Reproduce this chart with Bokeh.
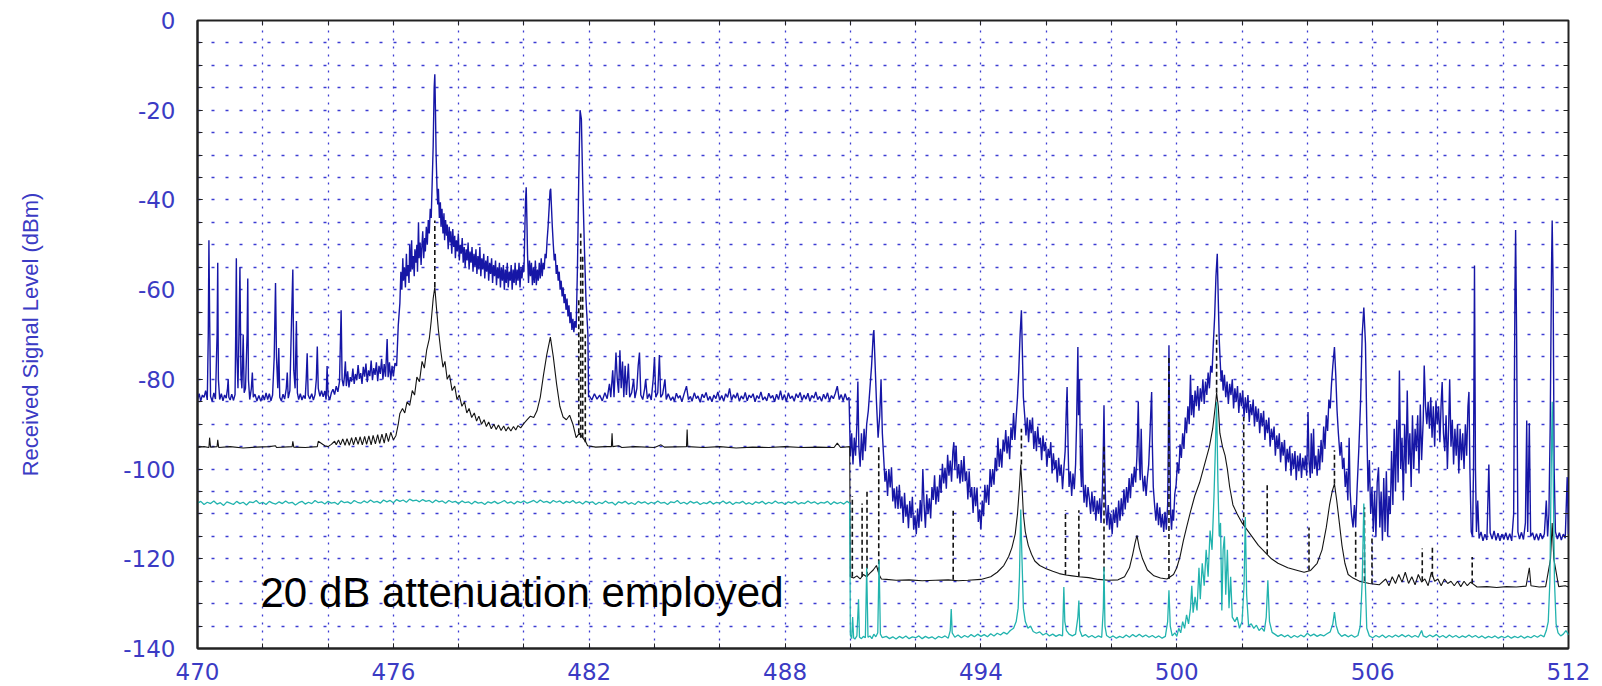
from bokeh.plotting import figure
from bokeh.models import Range1d, FixedTicker, LinearAxis, Label, ColumnDataSource
from bokeh.embed import file_html
from bokeh.resources import INLINE

# ---------------- data ----------------
x_tick_values = [470, 476, 482, 488, 494, 500, 506, 512]
x_grid_values = list(range(470, 513, 2))
y_tick_values = [-140, -120, -100, -80, -60, -40, -20, 0]
y_tick_labels = ["-140", "-120", "-100", "-80", "-60", "-40", "-20", "0"]
y_grid_values = list(range(-140, 1, 5))

y_axis_title = "Received Signal Level (dBm)"
note_text = "20 dB attenuation employed"
note_pos = (471.93, -127.6)

# blue trace: (MHz, dBm)
blue_trace = [
    (470.00,-84.5),(470.05,-83.2),(470.10,-84.8),(470.15,-83.5),(470.20,-84.0),(470.25,-82.5),(470.30,-84.6),
    (470.33,-70),(470.35,-49),(470.37,-65),(470.40,-83.8),(470.45,-84.9),(470.50,-83.0),(470.55,-84.4),
    (470.60,-70),(470.62,-54),(470.64,-80),(470.68,-84.5),(470.73,-83.2),(470.78,-84.8),(470.83,-83.5),
    (470.88,-84.2),(470.92,-82),(470.94,-80),(470.96,-84),(471.00,-84.6),(471.05,-83.3),(471.10,-84.7),
    (471.15,-83.4),(471.17,-70),(471.19,-53),(471.21,-75),(471.24,-82),(471.27,-70),(471.30,-55),
    (471.33,-79),(471.36,-82),(471.40,-70),(471.43,-83),(471.47,-82),(471.52,-70),(471.54,-57.5),
    (471.56,-80),(471.60,-84.5),(471.65,-82),(471.68,-78.5),(471.71,-84),(471.76,-83.3),(471.82,-84.8),
    (471.88,-83.6),(471.94,-84.9),(472.00,-83.5),(472.05,-84.6),(472.10,-83.0),(472.15,-84.5),(472.20,-83.2),
    (472.25,-84.8),(472.30,-83.5),(472.35,-75),(472.39,-58.5),(472.42,-75),(472.46,-82),(472.49,-73),
    (472.52,-84),(472.57,-84.8),(472.62,-83.3),(472.67,-84.4),(472.72,-82),(472.75,-78.5),(472.78,-84.2),
    (472.83,-82.5),(472.87,-70),(472.92,-55.5),(472.95,-78),(472.99,-82),(473.03,-67),(473.06,-83),
    (473.10,-84.5),(473.15,-83.2),(473.20,-84.6),(473.25,-83.6),(473.30,-84.3),(473.33,-80),(473.36,-74.2),
    (473.39,-83.5),(473.44,-84.4),(473.50,-83.2),(473.55,-84.6),(473.60,-83.4),(473.64,-80),(473.67,-72.7),
    (473.70,-82),(473.75,-83.8),(473.80,-82.5),(473.85,-83.9),(473.90,-82.6),(473.94,-84.5),(473.97,-77),
    (474.00,-83.5),(474.05,-84.6),(474.10,-83.0),(474.15,-82.2),(474.20,-83.4),(474.25,-81.5),(474.30,-82.8),
    (474.35,-80.5),(474.40,-64.6),(474.43,-80),(474.47,-81.5),(474.50,-79.5),(474.53,-76),(474.56,-81.5),
    (474.60,-78.2),(474.64,-81.8),(474.68,-79.5),(474.72,-80.5),(474.76,-77.6),(474.80,-81.0),(474.84,-78.8),
    (474.88,-80.2),(474.92,-76.8),(474.96,-79.9),(475.00,-78.6),(475.04,-81.0),(475.08,-77.2),(475.12,-79.4),
    (475.16,-76.5),(475.20,-80.6),(475.24,-78.0),(475.28,-79.3),(475.32,-75.8),(475.36,-80.2),(475.40,-77.5),
    (475.44,-79.0),(475.48,-76.2),(475.52,-80.4),(475.56,-77.0),(475.60,-78.8),(475.64,-75.4),(475.68,-80.0),
    (475.72,-76.6),(475.76,-79.4),(475.81,-71),(475.84,-79.5),(475.88,-76.2),(475.92,-80.2),(475.96,-77.0),
    (476.00,-79.3),(476.05,-76.4),(476.10,-77),(476.15,-68),(476.20,-63),(476.23,-56),(476.26,-60),
    (476.29,-53),(476.31,-58),(476.34,-55),(476.37,-59.5),(476.40,-52),(476.42,-57),(476.45,-54.5),
    (476.48,-58.5),(476.50,-50),(476.53,-56),(476.56,-49),(476.58,-55.5),(476.61,-52.5),(476.64,-57),
    (476.66,-51),(476.69,-54),(476.72,-50),(476.74,-56),(476.77,-45),(476.79,-53),(476.82,-49.5),
    (476.85,-54.5),(476.87,-51),(476.90,-47),(476.93,-53),(476.96,-48.5),(476.98,-51.5),(477.01,-46),
    (477.04,-50),(477.07,-44.5),(477.10,-47.5),(477.13,-42),(477.16,-44),(477.19,-36),(477.22,-28),
    (477.25,-15),(477.27,-12),(477.29,-20),(477.31,-30),(477.34,-38),(477.36,-41),(477.38,-37.5),
    (477.41,-44),(477.44,-40.5),(477.46,-46),(477.49,-42),(477.52,-47.5),(477.55,-43),(477.57,-49),
    (477.60,-44.5),(477.63,-48),(477.65,-45.5),(477.68,-51),(477.71,-46),(477.74,-49.5),(477.76,-47),
    (477.79,-52),(477.82,-46.5),(477.85,-50.5),(477.88,-48),(477.90,-53),(477.93,-49),(477.96,-51.5),
    (477.99,-47.5),(478.02,-53.5),(478.05,-50),(478.08,-52),(478.11,-48.5),(478.14,-54),(478.17,-50.5),
    (478.20,-55),(478.23,-51),(478.26,-53.5),(478.29,-49.5),(478.32,-55.5),(478.35,-51.5),(478.38,-54),
    (478.41,-50.5),(478.44,-56),(478.47,-52),(478.50,-55),(478.53,-51),(478.56,-56.5),(478.59,-52.5),
    (478.62,-55.5),(478.65,-50.5),(478.68,-57),(478.71,-53),(478.74,-55.5),(478.77,-52),(478.80,-57.5),
    (478.83,-53.5),(478.86,-56),(478.89,-52.5),(478.92,-58),(478.95,-54),(478.98,-56.5),(479.01,-53),
    (479.04,-58.5),(479.07,-54.5),(479.10,-57),(479.13,-53.5),(479.16,-59),(479.19,-55),(479.22,-57.5),
    (479.25,-54),(479.28,-59.5),(479.31,-55),(479.34,-58),(479.37,-54.5),(479.40,-60),(479.43,-55.5),
    (479.46,-58.5),(479.49,-54),(479.52,-59.5),(479.55,-56),(479.58,-58),(479.61,-54.5),(479.64,-60),
    (479.67,-55.5),(479.70,-58.5),(479.73,-54),(479.76,-59),(479.79,-55.5),(479.82,-58),(479.85,-54),
    (479.88,-59.5),(479.91,-55),(479.94,-57.5),(479.97,-54.5),(480.00,-56),(480.03,-46),(480.05,-40),
    (480.07,-37.2),(480.09,-44),(480.11,-52),(480.14,-58.5),(480.17,-53.5),(480.20,-57),(480.23,-54),
    (480.26,-59),(480.29,-55),(480.32,-58.5),(480.35,-53.5),(480.38,-59),(480.41,-55.5),(480.44,-58),
    (480.47,-54),(480.50,-57.5),(480.53,-53),(480.56,-57),(480.59,-54),(480.62,-55.5),(480.65,-52),
    (480.68,-53),(480.71,-49),(480.74,-46),(480.77,-42),(480.80,-38),(480.82,-37.5),(480.84,-41),
    (480.87,-46),(480.90,-50),(480.93,-53.5),(480.96,-52),(480.99,-56.5),(481.02,-54.5),(481.05,-58),
    (481.08,-56),(481.11,-60),(481.14,-58),(481.17,-61.5),(481.20,-59.5),(481.23,-63),(481.26,-61),
    (481.29,-64.5),(481.32,-62),(481.35,-66),(481.38,-63.5),(481.41,-67.5),(481.44,-65),(481.47,-69),
    (481.50,-66.5),(481.53,-69.5),(481.56,-67),(481.60,-68.5),(481.64,-55),(481.68,-35),(481.72,-20),
    (481.76,-22),(481.80,-36),(481.85,-50),(481.90,-62),(481.96,-70),(481.98,-84),
    (482.00,-83.6),(482.08,-84.6),(482.16,-83.2),(482.24,-84.4),(482.32,-83.5),(482.40,-84.8),(482.48,-83.0),
    (482.55,-84.3),(482.62,-81),(482.66,-84),(482.72,-78),(482.76,-84),(482.82,-74),(482.86,-80),
    (482.90,-83),(482.94,-73.5),(482.98,-82),(483.02,-76),(483.06,-84),(483.10,-77),(483.14,-83.5),
    (483.20,-76.5),(483.24,-84),(483.30,-83),(483.36,-80),(483.40,-84.2),(483.46,-82),(483.50,-77),
    (483.54,-74),(483.58,-83.5),(483.64,-84.5),(483.70,-82),(483.73,-80),(483.78,-84.3),(483.84,-83.2),
    (483.90,-84.6),(483.96,-80),(484.00,-75),(484.04,-84),(484.10,-83),(484.15,-74.6),(484.19,-84),
    (484.25,-83.3),(484.32,-80),(484.36,-84.5),(484.42,-83.2),(484.50,-84.7),(484.56,-83.9),(484.61,-84.9),
    (484.67,-83.1),(484.73,-84.2),(484.78,-83.6),(484.84,-85.0),(484.90,-83.4),(484.98,-81.5),(485.04,-84.5),
    (485.10,-83.8),(485.15,-84.9),(485.22,-83.0),(485.28,-84.3),(485.33,-83.7),(485.40,-85.1),(485.46,-83.3),
    (485.52,-84.1),(485.58,-82.9),(485.64,-84.7),(485.70,-83.8),(485.76,-85.0),(485.82,-83.5),(485.88,-84.3),
    (485.94,-82.8),(486.00,-84.6),(486.06,-83.6),(486.12,-84.9),(486.18,-83.2),(486.24,-84.0),(486.30,-82.0),
    (486.36,-84.7),(486.42,-83.4),(486.48,-84.2),(486.54,-83.0),(486.60,-84.9),(486.66,-83.7),(486.72,-84.4),
    (486.78,-82.9),(486.84,-84.8),(486.90,-83.5),(486.96,-84.1),(487.02,-83.2),(487.08,-85.0),(487.14,-83.6),
    (487.20,-84.3),(487.26,-82.8),(487.32,-84.6),(487.38,-83.9),(487.44,-84.8),(487.50,-83.1),(487.56,-84.2),
    (487.62,-83.6),(487.68,-85.0),(487.74,-83.3),(487.80,-84.5),(487.86,-82.5),(487.92,-84.6),(487.98,-83.4),
    (488.04,-84.9),(488.10,-83.0),(488.16,-84.3),(488.22,-83.7),(488.28,-84.9),(488.34,-83.2),(488.40,-84.1),
    (488.46,-82.9),(488.52,-84.7),(488.58,-83.5),(488.64,-84.4),(488.70,-83.1),(488.76,-84.9),(488.82,-83.6),
    (488.88,-84.2),(488.94,-82.8),(489.00,-84.5),(489.06,-83.8),(489.12,-84.9),(489.18,-83.3),(489.24,-84.4),
    (489.30,-83.0),(489.36,-84.8),(489.42,-83.6),(489.48,-84.3),(489.54,-83.1),(489.60,-81.5),(489.66,-84.5),
    (489.72,-83.4),(489.78,-84.8),(489.84,-83.2),(489.90,-84.6),(489.96,-84),
    (490.00,-97),(490.04,-92),(490.08,-99),(490.12,-93),(490.16,-97),(490.20,-90),(490.23,-80.5),
    (490.26,-95),(490.30,-99.5),(490.34,-92),(490.38,-98),(490.42,-91),(490.46,-96),(490.50,-90),
    (490.55,-87),(490.60,-82),(490.65,-77),(490.70,-70),(490.72,-69),(490.75,-75),(490.80,-85),
    (490.85,-93),(490.90,-88),(490.94,-80),(490.98,-92),
    (491.02,-97.3),(491.06,-102.8),(491.10,-100.4),(491.14,-106.0),(491.18,-100.0),(491.22,-104.1),(491.26,-99.6),
    (491.30,-107.2),(491.34,-104.3),(491.38,-108.8),(491.42,-103.9),(491.46,-108.9),(491.50,-103.5),(491.54,-108.8),
    (491.58,-106.1),(491.62,-112.0),(491.66,-105.3),(491.70,-110.6),(491.74,-107.9),(491.78,-113.2),(491.82,-107.1),
    (491.86,-110.9),(491.90,-106.2),(491.94,-113.5),(491.98,-110.3),(492.02,-114.5),(492.06,-108.8),(492.10,-113.1),
    (492.14,-106.9),(492.18,-111.7),(492.22,-100),(492.26,-108.1),(492.30,-113.1),(492.34,-105.6),(492.38,-110.0),
    (492.42,-106.5),(492.46,-111.0),(492.50,-104.0),(492.54,-106.9),(492.58,-101.4),(492.62,-107.9),(492.66,-103.9),
    (492.70,-107.3),(492.74,-101.3),(492.78,-105.3),(492.82,-98.8),(492.86,-103.2),(492.90,-99.7),(492.94,-104.4),
    (492.98,-96.8),(493.02,-101.5),(493.06,-98.1),(493.10,-102.8),(493.14,-96.1),(493.17,-94),(493.20,-100),
    (493.24,-94.8),(493.28,-102.1),(493.32,-98.9),(493.36,-103.2),(493.40,-98.0),(493.44,-102.8),(493.48,-97.1),
    (493.52,-102.7),(493.56,-100.5),(493.60,-106.8),(493.64,-100.5),(493.68,-106.3),(493.72,-104),(493.76,-109.8),
    (493.80,-104),(493.84,-108.3),(493.88,-104.1),(493.92,-111.8),(493.96,-109),(494.00,-113.5),(494.04,-107),
    (494.08,-110.5),(494.12,-103.5),(494.16,-107.5),(494.20,-103.5),(494.24,-108),(494.28,-100),(494.32,-104),
    (494.36,-100),(494.40,-103.5),(494.44,-97.5),(494.48,-100.5),(494.52,-93),(494.56,-99.5),(494.60,-95.5),
    (494.64,-99.7),(494.68,-93.4),(494.72,-96.1),(494.76,-91.3),(494.80,-96.5),(494.84,-92.7),(494.88,-97.8),
    (494.92,-90.7),(494.96,-93.5),(495.00,-87.5),(495.04,-93.5),(495.08,-88.5),(495.12,-84),(495.16,-78),
    (495.20,-70),(495.24,-64.6),(495.27,-74),(495.30,-84),
    (495.34,-88),(495.38,-92.5),(495.42,-88.5),(495.46,-94),(495.50,-89),(495.54,-92),(495.58,-88.5),
    (495.62,-95.5),(495.66,-91.5),(495.70,-96),(495.74,-90.5),(495.78,-94.5),(495.82,-93),(495.86,-98),
    (495.90,-92.5),(495.94,-96),(495.98,-94),(496.02,-99.5),(496.06,-95.5),(496.10,-97.5),(496.14,-94),
    (496.18,-101),(496.22,-96.5),(496.26,-100),(496.30,-98),(496.34,-103),(496.38,-97.5),(496.42,-101.5),
    (496.46,-99),(496.50,-104.5),(496.54,-100),(496.58,-96),(496.61,-88),(496.64,-81.7),(496.67,-95),
    (496.70,-104),(496.74,-100.5),(496.78,-106),(496.82,-101),(496.86,-104.5),(496.90,-99),(496.93,-90),
    (496.97,-72.8),(496.99,-88),(497.02,-80),(497.05,-99),(497.08,-104),(497.10,-91),(497.13,-103),
    (497.16,-107.5),(497.20,-103.5),(497.24,-108.5),(497.28,-104),(497.32,-106.5),(497.36,-110),(497.40,-105),
    (497.44,-109.5),(497.48,-106),(497.52,-111.5),(497.56,-107),(497.60,-110),(497.64,-106.5),(497.68,-112),
    (497.72,-105),(497.75,-95),(497.77,-85.8),(497.79,-98),(497.82,-108.5),
    (497.86,-112.5),(497.90,-108),(497.94,-113.5),(497.98,-110),(498.02,-114.5),(498.06,-109),(498.10,-112),
    (498.14,-108.5),(498.18,-113),(498.22,-107),(498.26,-111.5),(498.30,-106.5),(498.34,-110.5),(498.38,-104.5),
    (498.42,-109),(498.46,-104),(498.50,-107.5),(498.54,-102),(498.58,-106.5),(498.62,-101),(498.66,-104),
    (498.70,-99.5),(498.74,-103),(498.78,-97),(498.82,-85),(498.85,-98),(498.88,-102.5),(498.91,-91),
    (498.94,-101),(498.98,-105),(499.02,-101.5),(499.06,-106),(499.10,-102),(499.14,-99),(499.18,-92),
    (499.21,-86),(499.23,-82.8),(499.25,-94),(499.28,-104),(499.32,-108),(499.36,-111.5),(499.40,-107.5),
    (499.44,-112.5),(499.48,-108.5),(499.52,-113),(499.56,-110),(499.60,-114),(499.64,-109.5),(499.68,-113.5),
    (499.72,-108),(499.74,-95),(499.76,-72.4),(499.78,-90),(499.81,-110),(499.84,-113.5),(499.87,-109),
    (499.90,-111.5),(499.94,-105.5),(499.98,-103.5),
    (500.02,-98.5),(500.06,-101),(500.10,-94.5),(500.14,-97.5),(500.18,-92),(500.22,-95.5),(500.26,-88.5),
    (500.30,-92),(500.34,-86),(500.38,-90),(500.42,-79),(500.45,-88),(500.48,-83.5),(500.52,-88.5),
    (500.56,-82.5),(500.60,-86),(500.64,-81.5),(500.68,-87),(500.72,-82),(500.76,-85),(500.80,-80),
    (500.84,-85.5),(500.88,-80.5),(500.92,-83.5),(500.96,-78.5),(501.00,-82),(501.04,-77),(501.08,-78.5),
    (501.12,-72),(501.16,-66),(501.20,-57),(501.24,-52),(501.27,-62),(501.30,-71),(501.33,-76),
    (501.36,-80.5),(501.39,-78),
    (501.42,-82.5),(501.46,-79),(501.50,-84),(501.54,-80.5),(501.58,-85.5),(501.62,-81),(501.66,-83.5),
    (501.70,-80),(501.74,-86.5),(501.78,-82),(501.82,-85),(501.86,-81.5),(501.90,-87.5),(501.94,-83),
    (501.98,-86),(502.02,-82.5),(502.06,-88.5),(502.10,-84),(502.14,-87.5),(502.18,-83.5),(502.22,-89.5),
    (502.26,-85.5),(502.30,-88),(502.34,-84.5),(502.38,-90.5),(502.42,-86),(502.46,-89.5),(502.50,-86.5),
    (502.54,-92),(502.58,-87.5),(502.62,-90.5),(502.66,-87),(502.70,-93.5),(502.74,-89),(502.78,-92),
    (502.82,-88.5),(502.86,-95),(502.90,-91),(502.94,-93.5),(502.98,-90.5),(503.02,-97),(503.06,-92.5),
    (503.10,-95.5),(503.14,-92),(503.18,-98.5),(503.22,-94),(503.26,-97),(503.30,-93.5),(503.34,-100.5),
    (503.38,-95.5),(503.42,-98.5),(503.46,-95),(503.50,-101.5),(503.54,-96.5),(503.58,-100),(503.62,-96),
    (503.66,-102.5),(503.70,-97),(503.74,-100.5),(503.78,-96.5),(503.82,-102),(503.86,-97.5),(503.90,-100),
    (503.94,-97),(503.98,-101.5),
    (504.00,-94),(504.02,-87.3),(504.05,-98),(504.09,-102),(504.12,-92),(504.15,-101),(504.19,-91),
    (504.22,-100),(504.26,-97),(504.30,-101.5),(504.34,-95.5),(504.38,-100),(504.42,-93.5),(504.46,-98.5),
    (504.50,-90.5),(504.54,-95.5),(504.58,-88),(504.62,-91.5),(504.66,-84.5),(504.70,-86.5),(504.74,-81),
    (504.78,-77),(504.83,-72.8),(504.87,-79),(504.91,-87),(504.95,-92),(505.00,-97),(505.04,-94),
    (505.08,-100),(505.12,-97.5),(505.16,-104),(505.20,-100.5),(505.24,-107),(505.28,-93),(505.31,-105),
    (505.35,-110),(505.40,-113),(505.44,-108),(505.48,-113),(505.52,-105),(505.58,-95),(505.63,-85),
    (505.68,-70),(505.73,-64),(505.78,-72),(505.82,-90),(505.86,-105),(505.90,-98),(505.94,-110),
    (505.98,-104),(506.02,-114),(506.06,-105),(506.10,-115),(506.14,-103),(506.18,-99.6),(506.22,-113),
    (506.26,-105),(506.30,-116),(506.34,-102),(506.38,-114),(506.42,-100.5),(506.46,-115),(506.50,-106),
    (506.54,-110),(506.58,-96),(506.62,-108),(506.66,-91),(506.70,-105),(506.74,-89),(506.78,-103),
    (506.82,-78),(506.86,-100),(506.90,-93),(506.94,-107),(506.98,-90),(507.02,-101),(507.06,-82.5),
    (507.10,-99),(507.14,-92),(507.18,-104),(507.22,-88),(507.26,-100),(507.30,-91),(507.34,-96),
    (507.38,-88),(507.42,-101),(507.46,-85.6),(507.50,-98),(507.55,-89),(507.58,-76.9),(507.62,-86),
    (507.66,-90),(507.70,-85),(507.74,-91),(507.78,-84),(507.82,-93),(507.86,-86),(507.90,-95),
    (507.94,-84.7),(507.98,-90),(508.02,-86),(508.06,-94),(508.10,-85),(508.13,-80.6),(508.17,-92),
    (508.21,-96),(508.25,-88),(508.29,-100),(508.33,-90),(508.36,-80),(508.40,-95),(508.44,-89),
    (508.48,-99),(508.52,-91),(508.56,-97),(508.60,-90),(508.64,-101),(508.68,-91),(508.72,-98),
    (508.76,-92),(508.80,-100),(508.84,-90),(508.88,-97),(508.92,-86),(508.95,-82.8),(508.98,-100),
    (509.02,-114),(509.06,-115),(509.09,-100),(509.12,-54.6),(509.15,-100),(509.18,-114),(509.22,-107),
    (509.26,-115.5),(509.32,-114),(509.38,-116),(509.44,-114.5),(509.50,-115.8),(509.56,-99),(509.60,-114.2),
    (509.66,-115.6),(509.72,-113.8),(509.78,-115.9),(509.84,-114.3),(509.90,-116),(509.96,-114.5),(510.02,-115.7),
    (510.08,-114.2),(510.14,-115.8),(510.20,-114.4),(510.26,-116),(510.32,-110),(510.36,-60),(510.38,-46.7),
    (510.41,-70),(510.45,-114),(510.50,-115.6),(510.56,-114.1),(510.62,-115.7),(510.68,-112),(510.72,-89.2),
    (510.75,-114),(510.80,-89.8),(510.84,-115),(510.90,-114.2),(510.96,-115.8),(511.02,-114.4),(511.08,-115.9),
    (511.14,-114.3),(511.20,-115.6),(511.26,-114.5),(511.32,-107),(511.36,-115),(511.40,-110),(511.44,-90),
    (511.48,-55),(511.50,-44.6),(511.53,-60),(511.56,-100),(511.60,-114),(511.66,-115.6),(511.72,-114.2),
    (511.78,-115.8),(511.84,-114.5),(511.90,-115.4),(511.96,-101.8),(512.00,-114.5),
]

# black trace (solid part): (MHz, dBm)
black_trace = [
    (470.00,-95.2),(470.20,-95.0),(470.35,-95.2),(470.37,-93.0),(470.40,-95.1),(470.60,-95.0),(470.62,-93.5),
    (470.65,-95.2),(471.00,-95.0),(471.40,-95.3),(471.80,-95.1),(472.20,-95.0),(472.39,-94.8),(472.42,-95.2),
    (472.90,-95.0),(472.92,-93.8),(472.95,-95.1),(473.30,-95.2),(473.67,-95.0),(473.70,-93.8),(473.80,-94.3),
    (473.90,-94.8),(474.00,-95.0),(474.10,-94.5),(474.20,-93.8),(474.25,-94.6),(474.32,-93.5),(474.38,-94.6),
    (474.45,-93.3),(474.52,-94.7),(474.58,-93.2),(474.65,-94.7),(474.72,-93.0),(474.78,-94.6),(474.85,-92.9),
    (474.92,-94.5),(474.98,-92.8),(475.05,-94.6),(475.12,-92.7),(475.18,-94.5),(475.25,-92.6),(475.32,-94.6),
    (475.38,-92.5),(475.45,-94.4),(475.52,-92.3),(475.58,-94.3),(475.65,-92.2),(475.72,-94.2),(475.78,-92.0),
    (475.85,-93.9),(475.92,-91.8),(476.00,-93.5),(476.08,-92.5),(476.15,-90.0),(476.20,-87.6),(476.28,-86.5),
    (476.35,-87.5),(476.42,-85.0),(476.50,-85.8),(476.58,-82.5),(476.65,-83.5),(476.72,-79.5),(476.80,-80.5),
    (476.88,-76.0),(476.95,-77.5),(477.02,-73.5),(477.10,-71.0),(477.16,-67),(477.22,-62),(477.27,-59.4),
    (477.32,-64),(477.38,-69),(477.45,-73.5),(477.52,-77.3),(477.58,-76),(477.65,-80),(477.72,-79),
    (477.80,-82.5),(477.88,-81.5),(477.95,-84.5),(478.02,-83.5),(478.10,-86),(478.18,-85),(478.25,-87.5),
    (478.32,-86.5),(478.40,-88.5),(478.48,-87.5),(478.55,-89.3),(478.62,-88.2),(478.70,-90),(478.78,-89),
    (478.85,-90.5),(478.92,-89.5),(479.00,-91),(479.08,-90),(479.15,-91.2),(479.22,-90.2),(479.30,-91.4),
    (479.38,-90.4),(479.45,-91.5),(479.52,-90.6),(479.60,-91.5),(479.68,-90.5),(479.75,-91.3),(479.82,-90.3),
    (479.90,-90.8),(480.00,-89.8),(480.10,-89.0),(480.20,-88.2),(480.30,-88.5),(480.40,-87),(480.50,-84),
    (480.60,-79),(480.70,-74.5),(480.81,-70.6),(480.90,-75),(481.00,-81),(481.10,-86),(481.20,-88.4),
    (481.30,-89),(481.40,-88),(481.50,-90),(481.60,-93),(481.70,-92),(481.80,-93),(481.90,-94),
    (481.95,-94.8),(482.20,-95.1),(482.50,-95.0),(482.68,-95.0),(482.70,-92.0),(482.72,-95.0),(482.90,-94.8),
    (483.00,-95.2),(483.40,-95.0),(484.00,-95.2),(484.20,-94.6),(484.30,-95.1),(484.98,-95.0),(485.00,-91.2),
    (485.02,-95.0),(485.50,-95.2),(486.00,-95.0),(486.50,-95.3),(487.00,-95.1),(487.50,-95.2),(488.00,-95.0),
    (488.50,-95.2),(489.00,-95.1),(489.50,-95.2),(489.60,-94.2),(489.70,-95.2),(489.98,-95.0),
    (490.00,-124),(490.10,-124.3),(490.20,-123.8),(490.30,-124.5),(490.40,-123.5),(490.50,-124),(490.60,-123.2),
    (490.70,-122.5),(490.80,-121.5),(490.88,-123.5),(490.95,-124.5),(491.10,-124.6),(491.40,-124.8),(491.80,-124.7),
    (492.20,-124.9),(492.60,-124.8),(493.00,-124.7),(493.30,-124.9),(493.60,-124.8),(494.00,-124.6),(494.30,-124.0),
    (494.50,-123.0),(494.70,-121.5),(494.85,-119.5),(494.95,-117.5),(495.05,-114.5),(495.12,-110),(495.18,-104),
    (495.22,-99),(495.26,-104),(495.30,-110),(495.36,-114),(495.45,-117),(495.55,-119),(495.65,-120.5),
    (495.80,-121.5),(496.00,-122.2),(496.20,-122.8),(496.40,-123.3),(496.60,-123.6),(496.80,-123.8),(497.00,-124.0),
    (497.30,-124.2),(497.60,-124.6),(497.90,-124.8),(498.20,-124.7),(498.40,-124.0),(498.55,-122),(498.65,-119),
    (498.72,-116.5),(498.78,-114.8),(498.85,-117.5),(498.95,-120),(499.10,-122.5),(499.30,-123.8),(499.50,-124.3),
    (499.70,-124.5),(499.90,-123.5),(500.00,-122),(500.10,-119.5),(500.20,-116),(500.30,-113),(500.42,-109.5),
    (500.55,-106),(500.70,-103),(500.85,-99),(501.00,-95),(501.10,-91),(501.18,-86),(501.22,-83),
    (501.27,-86),(501.32,-92),(501.40,-95),(501.48,-97),(501.55,-100),(501.62,-104),(501.72,-108),
    (501.85,-110),(502.00,-112),(502.15,-113.5),(502.30,-115),(502.50,-117),(502.70,-118.5),(502.90,-120),
    (503.10,-121),(503.40,-122),(503.70,-122.6),(503.90,-123),(504.10,-122.6),(504.30,-121),(504.45,-118),
    (504.58,-113),(504.68,-108),(504.76,-105),(504.83,-103.3),(504.90,-107),(504.98,-112),(505.06,-117),
    (505.15,-121),(505.25,-123.5),(505.40,-124.3),(505.60,-125),(505.90,-125.5),(506.20,-125.8),(506.40,-124.5),
    (506.50,-126),(506.60,-124),(506.70,-125.5),(506.80,-123.5),(506.90,-125.2),(507.00,-123),(507.10,-125.5),
    (507.20,-124),(507.30,-125.8),(507.40,-123.5),(507.50,-125.2),(507.60,-124.5),(507.70,-126),(507.80,-123),
    (507.90,-125),(508.00,-124.5),(508.10,-126),(508.20,-124.5),(508.30,-125.5),(508.40,-125),(508.50,-126),
    (508.60,-125),(508.70,-126.2),(508.80,-125),(508.90,-126),(509.00,-125.2),(509.20,-126.3),(509.50,-126.2),
    (509.80,-126.4),(510.10,-126.2),(510.40,-126.3),(510.70,-126.1),(510.80,-122),(510.85,-126),(511.10,-126.3),
    (511.30,-126.2),(511.45,-120),(511.50,-112),(511.55,-120),(511.70,-126.2),(511.90,-126.0),(512.00,-126.3),
]

# black trace, dashed excursions: (MHz, from dBm, to dBm)
black_dashed = [
    (477.27,-59.4,-44.6),(481.68,-92,-62),(481.74,-93,-47.5),(481.80,-93,-52),(481.88,-94,-70),
    (490.06,-124,-106),(490.36,-124,-107.7),(490.51,-124,-104.8),(490.87,-123,-95),(493.15,-124.7,-108.8),
    (495.24,-99,-91),(496.59,-123.6,-109.2),(497.00,-124,-109.2),(497.77,-124.6,-95),(499.76,-124.5,-75),
    (501.22,-83,-70),(502.05,-112.5,-88.4),(502.77,-119,-103.3),(504.05,-122.6,-113),(504.83,-103.3,-95.8),
    (505.48,-124,-114),(505.75,-125,-108.5),(505.98,-125.5,-115.2),(507.52,-125,-117.7),(507.83,-124,-117),
    (509.05,-125.5,-119.6),
]

# cyan trace: (MHz, dBm)
cyan_trace = [
    (470.0,-107.6),(470.1,-107.2),(470.2,-107.9),(470.3,-107.4),(470.4,-107.7),(470.5,-107.1),(470.6,-107.8),
    (470.7,-107.5),(470.8,-108.1),(470.9,-107.3),(471.0,-107.6),(471.1,-107.9),(471.2,-107.2),(471.3,-107.7),
    (471.4,-107.4),(471.5,-108.0),(471.6,-107.3),(471.7,-107.5),(471.8,-107.0),(471.9,-107.7),(472.0,-107.4),
    (472.1,-107.9),(472.2,-107.2),(472.3,-107.6),(472.4,-107.8),(472.5,-107.3),(472.6,-107.7),(472.7,-107.1),
    (472.8,-107.6),(472.9,-107.4),(473.0,-108.0),(473.1,-107.5),(473.2,-107.2),(473.3,-107.8),(473.4,-107.4),
    (473.5,-107.7),(473.6,-107.0),(473.7,-107.5),(473.8,-107.3),(473.9,-107.8),(474.0,-107.2),(474.1,-107.6),
    (474.2,-107.4),(474.3,-107.9),(474.4,-107.1),(474.5,-107.5),(474.6,-107.3),(474.7,-107.7),(474.8,-107.0),
    (474.9,-107.4),(475.0,-107.6),(475.1,-107.1),(475.2,-107.5),(475.3,-106.9),(475.4,-107.4),(475.5,-107.2),
    (475.6,-107.6),(475.7,-106.9),(475.8,-107.3),(475.9,-107.0),(476.0,-107.5),(476.1,-106.8),(476.2,-107.2),
    (476.3,-106.9),(476.4,-107.4),(476.5,-106.7),(476.6,-107.1),(476.7,-106.9),(476.8,-107.3),(476.9,-106.8),
    (477.0,-107.2),(477.1,-107.0),(477.2,-107.5),(477.3,-106.9),(477.4,-107.3),(477.5,-107.1),(477.6,-107.6),
    (477.7,-107.0),(477.8,-107.4),(477.9,-107.2),(478.0,-107.7),(478.1,-107.1),(478.2,-107.5),(478.3,-107.3),
    (478.4,-107.8),(478.5,-107.2),(478.6,-107.6),(478.7,-107.4),(478.8,-107.9),(478.9,-107.3),(479.0,-107.6),
    (479.1,-107.2),(479.2,-107.7),(479.3,-107.4),(479.4,-107.0),(479.5,-107.6),(479.6,-107.3),(479.7,-107.8),
    (479.8,-107.2),(479.9,-107.5),(480.0,-107.1),(480.1,-107.6),(480.2,-107.3),(480.3,-107.0),(480.4,-107.5),
    (480.5,-106.9),(480.6,-107.4),(480.7,-107.2),(480.8,-107.6),(480.9,-107.0),(481.0,-107.4),(481.1,-107.1),
    (481.2,-107.7),(481.3,-107.2),(481.4,-107.5),(481.5,-107.0),(481.6,-107.6),(481.7,-107.3),(481.8,-107.8),
    (481.9,-107.2),(482.0,-107.5),(482.1,-107.3),(482.2,-107.9),(482.3,-107.4),(482.4,-107.7),(482.5,-107.1),
    (482.6,-107.6),(482.7,-107.4),(482.8,-108.0),(482.9,-107.3),(483.0,-107.6),(483.1,-107.2),(483.2,-107.8),
    (483.3,-107.5),(483.4,-107.9),(483.5,-107.2),(483.6,-107.6),(483.7,-107.3),(483.8,-107.8),(483.9,-107.4),
    (484.0,-107.7),(484.1,-107.1),(484.2,-107.6),(484.3,-107.4),(484.4,-107.9),(484.5,-107.3),(484.6,-107.5),
    (484.7,-107.0),(484.8,-107.7),(484.9,-107.4),(485.0,-107.8),(485.1,-107.2),(485.2,-107.6),(485.3,-107.3),
    (485.4,-107.9),(485.5,-107.5),(485.6,-107.7),(485.7,-107.2),(485.8,-107.8),(485.9,-107.4),(486.0,-107.6),
    (486.1,-107.1),(486.2,-107.7),(486.3,-107.3),(486.4,-107.9),(486.5,-107.4),(486.6,-107.6),(486.7,-107.2),
    (486.8,-107.8),(486.9,-107.5),(487.0,-107.9),(487.1,-107.3),(487.2,-107.6),(487.3,-107.2),(487.4,-107.8),
    (487.5,-107.4),(487.6,-107.7),(487.7,-107.1),(487.8,-107.6),(487.9,-107.4),(488.0,-107.9),(488.1,-107.3),
    (488.2,-107.6),(488.3,-107.2),(488.4,-107.8),(488.5,-107.5),(488.6,-107.7),(488.7,-107.1),(488.8,-107.6),
    (488.9,-107.3),(489.0,-107.8),(489.1,-107.4),(489.2,-107.6),(489.3,-107.2),(489.4,-107.9),(489.5,-107.3),
    (489.6,-107.7),(489.7,-107.4),(489.8,-107.8),(489.9,-107.2),(489.98,-107.6),
    (490.00,-137.0),(490.04,-137.8),(490.07,-133),(490.10,-137.6),(490.14,-137.9),(490.20,-137.2),(490.25,-129),
    (490.28,-137.5),(490.34,-137.8),(490.40,-137.3),(490.46,-137.6),(490.50,-122),(490.54,-137.5),(490.60,-137.2),
    (490.66,-137.8),(490.72,-136.8),(490.78,-137.4),(490.84,-136.5),(490.88,-120.4),(490.92,-136.8),(490.98,-137.6),
    (491.1,-137.3),(491.2,-137.8),(491.3,-137.4),(491.4,-137.9),(491.5,-137.3),(491.6,-137.7),(491.7,-137.2),
    (491.8,-137.8),(491.9,-137.4),(492.0,-137.6),(492.1,-137.2),(492.2,-137.8),(492.3,-137.3),(492.4,-137.7),
    (492.5,-137.4),(492.6,-137.9),(492.7,-137.3),(492.8,-137.6),(492.9,-137.2),(493.0,-137.7),(493.06,-136),
    (493.09,-131.2),(493.12,-136.5),(493.2,-137.5),(493.3,-137.0),(493.4,-137.6),(493.5,-137.1),(493.6,-137.5),
    (493.7,-136.9),(493.8,-137.4),(493.9,-136.8),(494.0,-137.3),(494.1,-136.9),(494.2,-137.4),(494.3,-136.7),
    (494.4,-137.2),(494.5,-136.6),(494.6,-137.0),(494.7,-136.4),(494.8,-136.8),(494.9,-136.0),(495.0,-135.5),
    (495.08,-134),(495.14,-131),(495.18,-124),(495.22,-109),(495.25,-118),(495.30,-131),(495.36,-134),
    (495.44,-135.5),(495.52,-135),(495.6,-136.2),(495.7,-136.6),(495.8,-136.3),(495.9,-137.0),(496.0,-136.6),
    (496.1,-137.2),(496.2,-136.8),(496.3,-137.3),(496.4,-136.9),(496.5,-137.2),(496.52,-132),(496.54,-126.3),
    (496.57,-134),(496.62,-136),(496.7,-136.8),(496.8,-137.2),(496.9,-136.8),(496.97,-133),(497.0,-129.3),
    (497.03,-136),(497.1,-137.3),(497.2,-136.9),(497.3,-137.5),(497.4,-137.1),(497.5,-137.6),(497.6,-137.2),
    (497.7,-137.5),(497.75,-131),(497.77,-121.9),(497.80,-135),(497.85,-137.1),(497.95,-137.6),(498.05,-137.2),
    (498.15,-137.7),(498.25,-137.3),(498.35,-137.6),(498.45,-137.0),(498.55,-137.5),(498.65,-136.9),(498.75,-137.4),
    (498.85,-136.8),(498.95,-137.4),(499.05,-137.0),(499.15,-137.5),(499.25,-137.1),(499.35,-137.6),(499.45,-137.2),
    (499.55,-137.7),(499.65,-137.3),(499.72,-134),(499.76,-127),(499.80,-135),(499.86,-137.2),(499.94,-136.5),
    (500.00,-137.3),(500.06,-135.5),(500.12,-136.5),(500.18,-134),(500.24,-135.5),(500.30,-132.5),(500.36,-134.5),
    (500.42,-131),(500.46,-126),(500.50,-132),(500.56,-128.5),(500.62,-131.5),(500.68,-122),(500.72,-129),
    (500.78,-121),(500.84,-126),(500.90,-118),(500.96,-124),(501.02,-113.7),(501.08,-118),(501.14,-106),
    (501.18,-96),(501.22,-85),(501.26,-103),(501.30,-115),(501.34,-112),(501.38,-131.5),(501.42,-118),
    (501.46,-115),(501.50,-128),(501.55,-118),(501.60,-131),(501.65,-124),(501.70,-133),(501.78,-134),
    (501.85,-133),(501.92,-135.5),(502.00,-134),(502.06,-126),(502.10,-110.7),(502.14,-128),(502.20,-135),
    (502.28,-134.5),(502.36,-135.5),(502.44,-134.8),(502.52,-136),(502.60,-135.4),(502.68,-136.2),(502.74,-133),
    (502.79,-124.8),(502.84,-134),(502.92,-136.4),(503.0,-136.8),(503.1,-137.3),(503.2,-136.9),(503.3,-137.4),
    (503.4,-137.0),(503.5,-137.6),(503.6,-137.1),(503.7,-137.5),(503.8,-137.0),(503.9,-137.4),(504.0,-136.6),
    (504.1,-137.2),(504.2,-136.8),(504.3,-137.3),(504.4,-136.9),(504.5,-137.2),(504.6,-136.7),(504.7,-136.3),
    (504.78,-134.5),(504.83,-131.9),(504.88,-134.8),(504.95,-136.5),(505.05,-137.3),(505.15,-136.9),(505.25,-137.4),
    (505.35,-137.0),(505.45,-137.5),(505.55,-137.1),(505.62,-135),(505.68,-125),(505.73,-107.7),(505.77,-124),
    (505.82,-135.5),(505.9,-137.2),(506.0,-137.6),(506.1,-137.1),(506.2,-137.5),(506.3,-137.0),(506.4,-137.6),
    (506.5,-137.1),(506.6,-137.5),(506.7,-137.0),(506.8,-137.4),(506.9,-136.9),(507.0,-137.4),(507.1,-137.0),
    (507.2,-137.5),(507.3,-137.1),(507.4,-137.5),(507.5,-136.0),(507.55,-137.2),(507.65,-137.5),(507.75,-137.0),
    (507.85,-137.4),(507.95,-136.9),(508.05,-137.5),(508.15,-137.1),(508.25,-137.6),(508.35,-137.0),(508.45,-137.5),
    (508.55,-137.1),(508.65,-137.6),(508.75,-137.2),(508.85,-137.5),(508.95,-137.0),(509.05,-137.5),(509.15,-137.1),
    (509.25,-137.6),(509.35,-137.2),(509.45,-137.7),(509.55,-137.3),(509.65,-137.6),(509.75,-137.2),(509.85,-137.7),
    (509.95,-137.3),(510.05,-137.6),(510.15,-137.2),(510.25,-137.7),(510.35,-137.3),(510.45,-137.6),(510.55,-137.2),
    (510.65,-137.7),(510.75,-137.3),(510.85,-137.6),(510.95,-137.1),(511.05,-137.5),(511.15,-137.0),(511.25,-137.4),
    (511.32,-136),(511.38,-134),(511.43,-125),(511.47,-100),(511.50,-85),(511.53,-100),(511.57,-125),
    (511.62,-134.5),(511.68,-136.5),(511.76,-137.2),(511.84,-136.8),(511.92,-136.0),(511.96,-136.4),(512.0,-137.0),
]

# ---------------- styling ----------------
BLUE_TRACE = "#1616a6"
BLACK_TRACE = "#141414"
CYAN_TRACE = "#22b3ae"
LABEL_BLUE = "#3b3bc4"
GRID_BLUE = "#3c3cd2"
TICK_FONT = "DejaVu Sans"

p = figure(width=1594, height=686,
           x_range=Range1d(470, 512), y_range=Range1d(-140, 0),
           output_backend="svg", toolbar_location=None,
           min_border_left=197, min_border_right=26, min_border_top=20, min_border_bottom=38,
           background_fill_color="white", border_fill_color="white",
           outline_line_color="#222222", outline_line_width=2)

# grids
p.xgrid.ticker = FixedTicker(ticks=x_grid_values)
p.ygrid.ticker = FixedTicker(ticks=y_grid_values)
p.xgrid.grid_line_color = GRID_BLUE
p.xgrid.grid_line_width = 1.3
p.xgrid.grid_line_dash = "2 6"
p.ygrid.grid_line_color = GRID_BLUE
p.ygrid.grid_line_width = 1.6
p.ygrid.grid_line_dash = "3 11"

# axes
p.xaxis.ticker = FixedTicker(ticks=x_tick_values, minor_ticks=x_grid_values)
p.yaxis.ticker = FixedTicker(ticks=y_tick_values, minor_ticks=y_grid_values)
p.yaxis.major_label_overrides = {v: s for v, s in zip(y_tick_values, y_tick_labels)}
for ax in (p.xaxis, p.yaxis):
    ax.axis_line_color = "#222222"
    ax.axis_line_width = 2
    ax.major_tick_in = 5
    ax.major_tick_out = 0
    ax.minor_tick_in = 5
    ax.minor_tick_out = 0
    ax.major_tick_line_color = "#222222"
    ax.minor_tick_line_color = "#222222"
    ax.major_label_text_font = TICK_FONT
    ax.major_label_text_font_size = "23px"
    ax.major_label_text_color = LABEL_BLUE
p.xaxis.major_label_standoff = 14
p.yaxis.major_label_standoff = 22
p.yaxis.axis_label = y_axis_title
p.yaxis.axis_label_text_font = "Liberation Sans"
p.yaxis.axis_label_text_font_size = "22px"
p.yaxis.axis_label_text_font_style = "normal"
p.yaxis.axis_label_text_color = LABEL_BLUE
p.yaxis.axis_label_standoff = 77

# tick marks on the right and top frame edges (no labels)
right_ax = LinearAxis(ticker=FixedTicker(ticks=[], minor_ticks=y_grid_values),
                      axis_line_color=None, minor_tick_in=5, minor_tick_out=0,
                      minor_tick_line_color="#222222")
top_ax = LinearAxis(ticker=FixedTicker(ticks=[], minor_ticks=x_grid_values),
                    axis_line_color=None, minor_tick_in=5, minor_tick_out=0,
                    minor_tick_line_color="#222222")
p.add_layout(right_ax, "right")
p.add_layout(top_ax, "above")

# traces
blue_src = ColumnDataSource(dict(f=[a for a, b in blue_trace], db=[b for a, b in blue_trace]))
black_src = ColumnDataSource(dict(f=[a for a, b in black_trace], db=[b for a, b in black_trace]))
cyan_src = ColumnDataSource(dict(f=[a for a, b in cyan_trace], db=[b for a, b in cyan_trace]))
dash_src = ColumnDataSource(dict(f=[a for a, b, c in black_dashed],
                                 lo=[b for a, b, c in black_dashed],
                                 hi=[c for a, b, c in black_dashed]))

p.line("f", "db", source=blue_src, line_color=BLUE_TRACE, line_width=1.4)
p.line("f", "db", source=black_src, line_color=BLACK_TRACE, line_width=1.1)
p.segment(x0="f", y0="lo", x1="f", y1="hi", source=dash_src,
          line_color=BLACK_TRACE, line_width=1.6, line_dash="5 3")
p.line("f", "db", source=cyan_src, line_color=CYAN_TRACE, line_width=1.3)

p.add_layout(Label(x=note_pos[0], y=note_pos[1], text=note_text,
                   text_font="Liberation Sans", text_font_size="42px",
                   text_color="#000000", text_baseline="alphabetic", text_align="left"))

open("out.html", "w").write(file_html(p, INLINE))
